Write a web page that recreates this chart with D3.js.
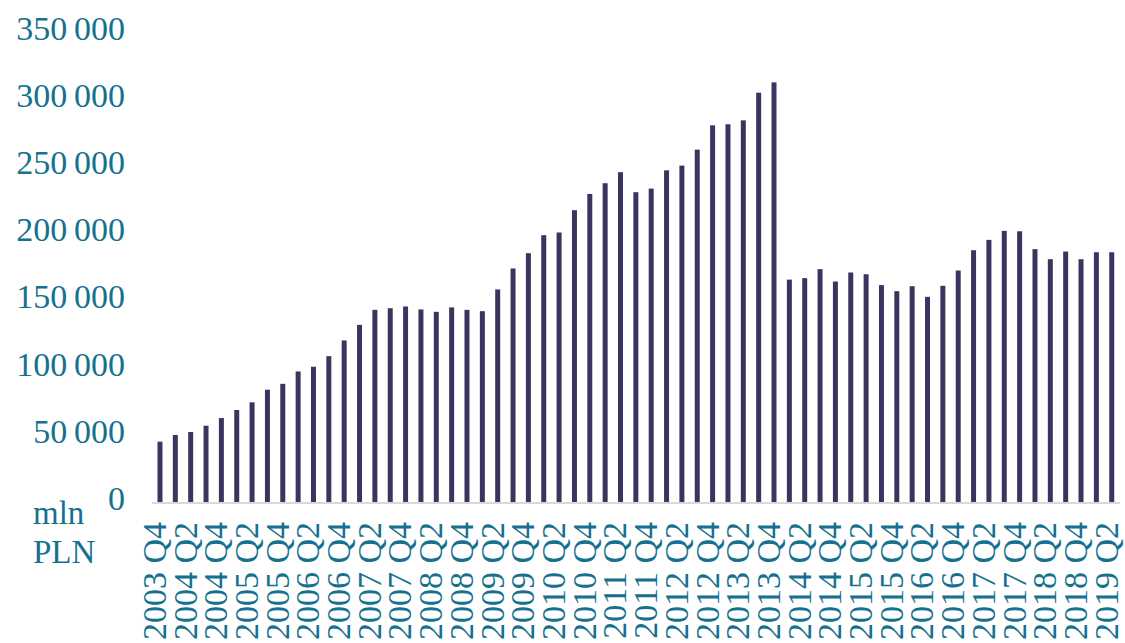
<!DOCTYPE html>
<html>
<head>
<meta charset="utf-8">
<script src="https://cdn.jsdelivr.net/npm/d3@7"></script>
<style>
  body { margin: 0; background: #fff; }
  text { font-family: "Liberation Serif", "DejaVu Serif", serif; }
</style>
</head>
<body>
<div id="chart"></div>
<script>
(function() {

    var width = 1125,
    height = 643;

    // quarters 2003 Q4 .. 2019 Q2
    var quarters = []
    for (var yr = 2003; yr <= 2019; yr++) {
        for (var q = 1; q <= 4; q++) {
            if (yr === 2003 && q < 4) continue
            if (yr === 2019 && q > 2) continue
            quarters.push(yr + " Q" + q)
        }
    }

    // mln PLN
    var values = [
        44900,
        49900, 52100, 56800, 62500,
        68500, 74200, 83600, 88000,
        97200, 100700, 108600, 120300,
        131900, 143100, 144300, 145600,
        143400, 141600, 144900, 143100,
        142100, 158300, 173900, 185300,
        198700, 200700, 217300, 229400,
        237400, 245600, 230700, 233400,
        247000, 250500, 262400, 280500,
        281300, 284200, 304800, 312500,
        165600, 166700, 173400, 164200,
        170900, 169600, 161500, 157000,
        160700, 152800, 161000, 172400,
        187500, 195200, 201900, 201600,
        188300, 180800, 186500, 180800,
        186000, 186000
    ]

    var yTicks = [0, 50000, 100000, 150000, 200000, 250000, 300000, 350000]

    var labelColor = "#15718f",
        barColor = "#3d3360"

    var svg = d3.select("#chart")
    .append("svg")
    .attr("width", width)
    .attr("height", height)

    var x = d3.scaleBand()
        .domain(quarters)
        .range([152.3, 1119.4])
        .paddingInner(0.675)
        .paddingOuter(0.3375)

    var y = d3.scaleLinear()
        .domain([0, 350000])
        .range([502, 32])

    var fmt = function(v) { return d3.format(",")(v).replace(/,/g, "\u2009") }

    // y labels
    svg.selectAll(".ylab")
        .data(yTicks)
        .enter().append("text")
        .attr("class", "ylab")
        .attr("x", 125)
        .attr("y", function(d){ return y(d) - 4 })
        .attr("dy", "0.35em")
        .attr("text-anchor", "end")
        .attr("fill", labelColor)
        .style("font-size", "34px")
        .text(fmt)

    // unit
    svg.append("text")
        .attr("x", 33).attr("y", 524)
        .attr("fill", labelColor)
        .style("font-size", "33px")
        .text("mln")
    svg.append("text")
        .attr("x", 33).attr("y", 563)
        .attr("fill", labelColor)
        .style("font-size", "33px")
        .text("PLN")

    // bars
    svg.selectAll(".bar")
        .data(values)
        .enter().append("rect")
        .attr("class", "bar")
        .attr("x", function(d, i){ return x(quarters[i]) })
        .attr("width", x.bandwidth())
        .attr("y", function(d){ return y(d) })
        .attr("height", function(d){ return y(0) - y(d) })
        .attr("fill", barColor)

    // axis line
    svg.append("line")
        .attr("x1", 152).attr("x2", 1120)
        .attr("y1", y(0) + 1).attr("y2", y(0) + 1)
        .attr("stroke", "#d9d9d9")
        .attr("stroke-width", 2)

    // x labels, every other quarter
    var shown = quarters.filter(function(d, i){ return i % 2 === 0 })

    svg.selectAll(".xlab")
        .data(shown)
        .enter().append("text")
        .attr("class", "xlab")
        .attr("transform", function(d){
            var cx = x(d) + x.bandwidth() / 2 - 6
            return "translate(" + cx + ",522) rotate(-90)"
        })
        .attr("dy", "0.35em")
        .attr("text-anchor", "end")
        .attr("fill", labelColor)
        .style("font-size", "34px")
        .text(function(d){ return d })

})();
</script>
</body>
</html>
